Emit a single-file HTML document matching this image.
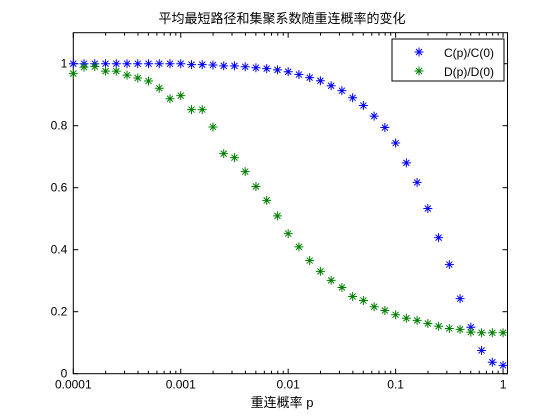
<!DOCTYPE html>
<html><head><meta charset="utf-8"><style>
body{margin:0;background:#fff}
svg{display:block;font-family:"Liberation Sans","Noto Sans CJK SC",sans-serif}
</style></head><body>
<svg id="chart" width="560" height="420">
<rect width="560" height="420" fill="#fff"/>
<text x="282" y="23" text-anchor="middle" font-size="13">平均最短路径和集聚系数随重连概率的变化</text>
<text x="282" y="407" text-anchor="middle" font-size="13">重连概率 p</text>
<g id="axes"></g>
<g id="marks"></g>
<g>
<rect x="392" y="39" width="112" height="42" fill="#fff" stroke="#000"/>
<g id="legmarks"></g>
<text x="494" y="57" text-anchor="end" font-size="12">C(p)/C(0)</text>
<text x="494" y="76" text-anchor="end" font-size="12">D(p)/D(0)</text>
</g>
</svg>
<script>
const exponents = [];
for (let i = 0; i <= 40; i++) exponents.push(-4 + i / 10);
const cValues = [1,1,1,1,1,1,1,1,1,1,1,0.997,0.997,0.996,0.993,0.993,0.99,0.987,0.984,0.98,0.974,0.965,0.955,0.945,0.929,0.913,0.89,0.865,0.831,0.794,0.744,0.68,0.617,0.533,0.439,0.352,0.242,0.15,0.075,0.037,0.027];
const dValues = [0.968,0.989,0.991,0.976,0.976,0.963,0.954,0.944,0.921,0.887,0.897,0.852,0.852,0.796,0.71,0.697,0.652,0.604,0.559,0.509,0.452,0.409,0.365,0.33,0.301,0.278,0.249,0.236,0.216,0.204,0.19,0.179,0.172,0.162,0.153,0.146,0.143,0.134,0.132,0.132,0.132];
const xTicks = [0.0001,0.001,0.01,0.1,1];
const xTickLabels = ["0.0001","0.001","0.01","0.1","1"];
const yTicks = [0,0.2,0.4,0.6,0.8,1];
const yTickLabels = ["0","0.2","0.4","0.6","0.8","1"];

const L=73.3,R=507.5,T=32.7,B=373.7;
const lx0=-4, lx1=Math.log10(1.1), ymax=1.1;
const sx=v=>L+(Math.log10(v)-lx0)/(lx1-lx0)*(R-L);
const sy=v=>B-v/ymax*(B-T);
const NS="http://www.w3.org/2000/svg";
function mk(tag,attrs,parent){const e=document.createElementNS(NS,tag);for(const k in attrs)e.setAttribute(k,attrs[k]);parent.appendChild(e);return e;}
const axes=document.getElementById('axes');
const frame=mk('rect',{x:L,y:T,width:R-L,height:B-T,fill:'none',stroke:'#000'},axes);


for(let d=-4;d<=0;d++){for(let m=1;m<=9;m++){const v=m*Math.pow(10,d);if(v>1.1)continue;const x=sx(v);const len=m===1?5:3;
mk('line',{x1:x,y1:B,x2:x,y2:B-len,stroke:'#000'},axes);mk('line',{x1:x,y1:T,x2:x,y2:T+len,stroke:'#000'},axes);}}
xTicks.forEach((v,i)=>{const t=mk('text',{x:sx(v),y:B+15,'text-anchor':'middle','font-size':12},axes);t.textContent=xTickLabels[i];

});
yTicks.forEach((v,i)=>{const y=sy(v);mk('line',{x1:L,y1:y,x2:L+5,y2:y,stroke:'#000'},axes);mk('line',{x1:R,y1:y,x2:R-5,y2:y,stroke:'#000'},axes);
const t=mk('text',{x:L-6,y:y+4,'text-anchor':'end','font-size':12},axes);t.textContent=yTickLabels[i];

});
function star(g,x,y,c){const s=4.5,d=3;mk('path',{d:`M${x-s},${y}H${x+s}M${x},${y-s}V${y+s}M${x-d},${y-d}L${x+d},${y+d}M${x-d},${y+d}L${x+d},${y-d}`,stroke:c,'stroke-width':1,fill:'none'},g);}
const marks=document.getElementById('marks');
const gc=mk('g',{},marks);


const gd=mk('g',{},marks);


exponents.forEach((e,i)=>{const x=sx(Math.pow(10,e));star(gd,x,sy(dValues[i]),'#008000');star(gc,x,sy(cValues[i]),'#0000ff');});
const lm=document.getElementById('legmarks');
star(lm,419,52,'#0000ff');star(lm,419,71,'#008000');
</script>
</body></html>
